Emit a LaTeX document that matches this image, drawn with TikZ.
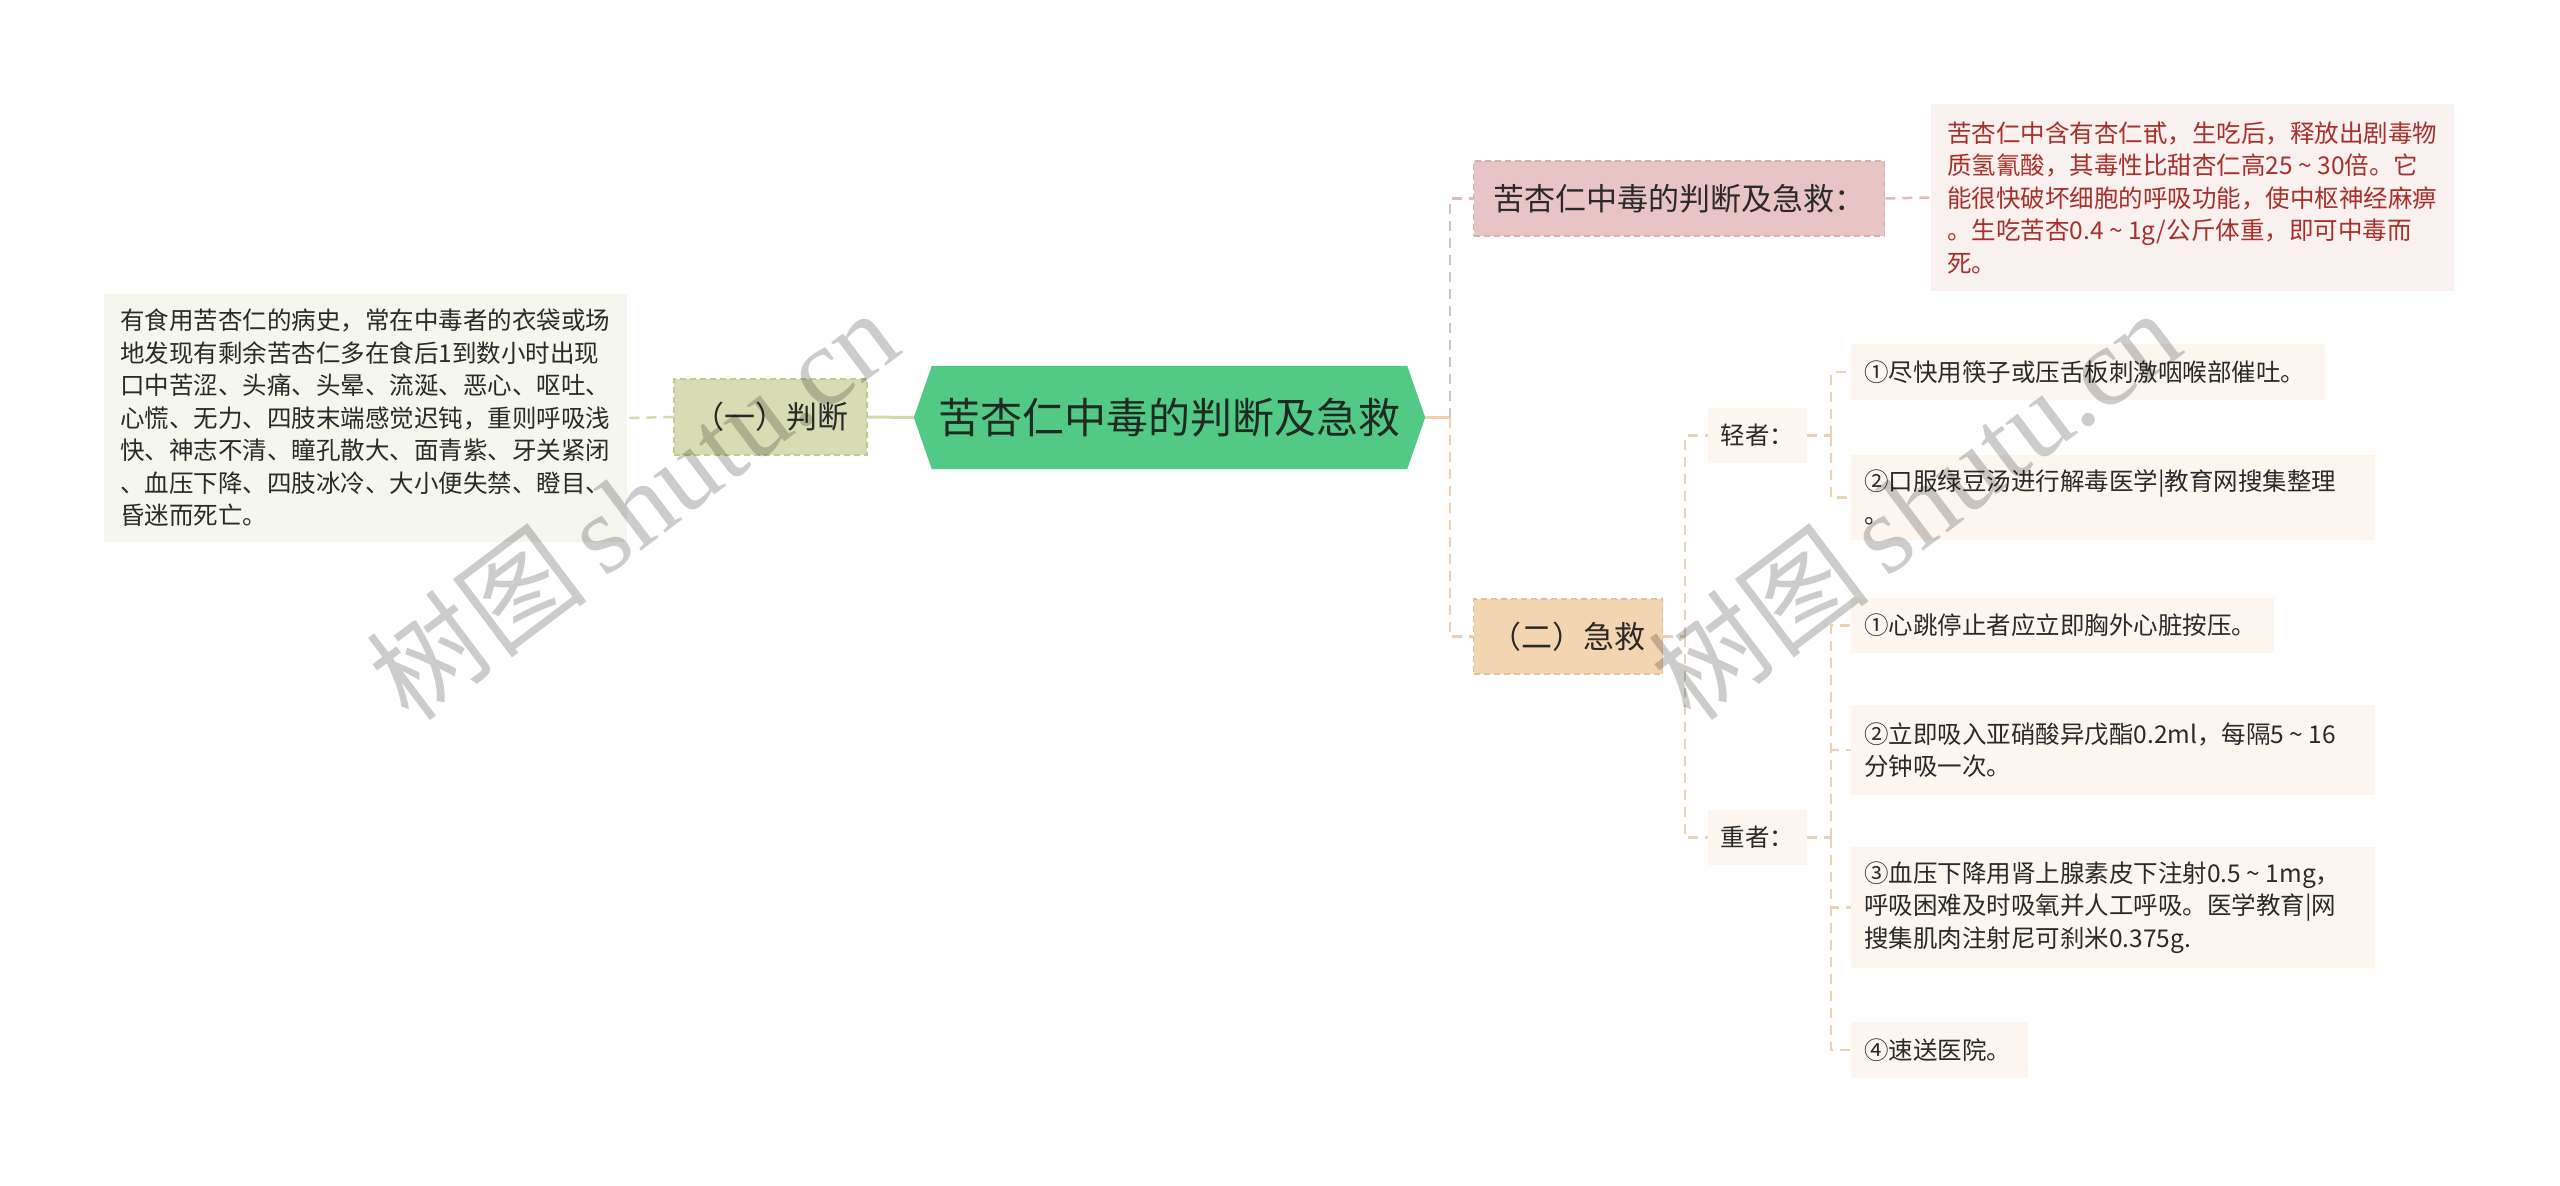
\documentclass[tikz,border=0pt]{standalone}
\usepackage{fontspec}
\setmainfont{Noto Sans CJK SC}
\newfontfamily\wmlatin{Liberation Serif}
\usetikzlibrary{backgrounds}
\newcommand\mytld{\hbox to 1em{\hss\textasciitilde\hss}}
\definecolor{cgreen}{HTML}{52C985}
\definecolor{ctitle}{HTML}{1E2B22}
\definecolor{ctxt}{HTML}{2A2A2A}
\definecolor{colivefill}{HTML}{D8DCB3}
\definecolor{coliveedge}{HTML}{C3C897}
\definecolor{coliveline}{HTML}{D3D8AE}
\definecolor{cleftbox}{HTML}{F5F6EE}
\definecolor{cpinkfill}{HTML}{E8C4C4}
\definecolor{cpinkedge}{HTML}{D6AEAE}
\definecolor{cpinkline}{HTML}{DBBDBE}
\definecolor{credbox}{HTML}{F9F0F0}
\definecolor{credtxt}{HTML}{A8302A}
\definecolor{cpeachfill}{HTML}{F4D5B2}
\definecolor{cpeachedge}{HTML}{E4C09A}
\definecolor{cpeachline}{HTML}{F0CFAE}
\definecolor{cleaf}{HTML}{FCF6EE}
\definecolor{csubline}{HTML}{E7D3B6}
\tikzset{
  small/.style={font=\fontsize{24.5}{32.5}\selectfont},
  mid/.style={font=\fontsize{31}{38}\selectfont},
  textbox/.style={small, align=left, inner xsep=16pt, inner ysep=0pt, text width=491pt},
  leafbox/.style={small, fill=cleaf, align=left, inner xsep=13pt, inner ysep=0pt, text=ctxt, anchor=west},
  mainbox/.style={mid, inner sep=0pt, dashed, dash pattern=on 6pt off 4pt, line width=1.3pt, text=ctxt},
  labelbox/.style={small, fill=cleaf, inner sep=0pt, minimum width=99pt, minimum height=55pt, text=ctxt},
  solidconn/.style={line width=3pt},
  dashconn/.style={line width=2.5pt, dash pattern=on 10pt off 7pt},
  watermark/.style={text=black, opacity=0.2, rotate=37, inner sep=0pt}
}
\begin{document}
\begin{tikzpicture}[x=1pt,y=-1pt]
\useasboundingbox (0,0) rectangle (2560,1186);
\begin{pgfonlayer}{background}
\fill[white] (0,0) rectangle (2560,1186);
\end{pgfonlayer}

% central node
\node[inner sep=0pt, minimum width=511pt, minimum height=103pt, text=ctitle,
      font=\fontsize{42}{50}\selectfont] (root) at (1169.5,417.5) {苦杏仁中毒的判断及急救};
\begin{pgfonlayer}{background}
\fill[cgreen] ([xshift=18pt]root.north west) -- ([xshift=-18pt]root.north east) -- (root.east)
  -- ([xshift=-18pt]root.south east) -- ([xshift=18pt]root.south west) -- (root.west) -- cycle;
\end{pgfonlayer}

% left branch
\node[mainbox, fill=colivefill, draw=coliveedge, minimum width=193pt, minimum height=76pt]
  (pd) at (770.5,417) {（一）判断};
\node[textbox, fill=cleftbox, text=ctxt, minimum height=248pt, anchor=west] (lt) at (104,418)
  {有食用苦杏仁的病史，常在中毒者的衣袋或场\\
   地发现有剩余苦杏仁多在食后1到数小时出现\\
   口中苦涩、头痛、头晕、流涎、恶心、呕吐、\\
   心慌、无力、四肢末端感觉迟钝，重则呼吸浅\\
   快、神志不清、瞳孔散大、面青紫、牙关紧闭\\
   、血压下降、四肢冰冷、大小便失禁、瞪目、\\
   昏迷而死亡。};

% right top branch
\node[mainbox, fill=cpinkfill, draw=cpinkedge, minimum width=411pt, minimum height=75pt, anchor=west]
  (pk) at (1473,198.5) {苦杏仁中毒的判断及急救：};
\node[textbox, fill=credbox, text=credtxt, minimum height=187pt, anchor=west] (rb) at (1931,197.5)
  {苦杏仁中含有杏仁甙，生吃后，释放出剧毒物\\
   质氢氰酸，其毒性比甜杏仁高25\mytld 30倍。它\\
   能很快破坏细胞的呼吸功能，使中枢神经麻痹\\
   。生吃苦杏0.4\mytld 1g/公斤体重，即可中毒而\\
   死。};

% right bottom branch
\node[mainbox, fill=cpeachfill, draw=cpeachedge, minimum width=189pt, minimum height=75pt, anchor=west]
  (jj) at (1473,636.5) {（二）急救};
\node[labelbox, anchor=west] (qing) at (1708,435.5) {轻者：};
\node[labelbox, anchor=west] (zhong) at (1708,837.5) {重者：};

\node[leafbox, text width=448pt, minimum height=56pt] (l1) at (1851,372) {①尽快用筷子或压舌板刺激咽喉部催吐。};
\node[leafbox, text width=498pt, minimum height=85pt] (l2) at (1851,497.5) {②口服绿豆汤进行解毒医学|教育网搜集整理\\。};
\node[leafbox, text width=397pt, minimum height=55pt] (m1) at (1851,625.5) {①心跳停止者应立即胸外心脏按压。};
\node[leafbox, text width=498pt, minimum height=90pt] (m2) at (1851,750) {②立即吸入亚硝酸异戊酯0.2ml，每隔5\mytld 16\\分钟吸一次。};
\node[leafbox, text width=498pt, minimum height=121pt] (m3) at (1851,907.5) {③血压下降用肾上腺素皮下注射0.5\mytld 1mg，\\呼吸困难及时吸氧并人工呼吸。医学教育|网\\搜集肌肉注射尼可刹米0.375g.};
\node[leafbox, text width=151pt, minimum height=56pt] (m4) at (1851,1050) {④速送医院。};

% bus coordinates
\coordinate (b1) at (1450,417.5);
\coordinate (b2) at (1685,636.5);
\coordinate (b3) at (1831,435.5);
\coordinate (b4) at (1831,837.5);

% connectors
\draw[solidconn, coliveline] (root.west) -- (pd.east);
\draw[dashconn, coliveline] (pd.west) -- (lt.east);
\draw[solidconn, cpeachline] (root.east) -- (b1);
\draw[dashconn, cpinkline] (b1) |- (pk.west);
\draw[dashconn, cpinkline] (pk.east) -- (rb.west);
\draw[dashconn, cpeachline] (b1) |- (jj.west);
\draw[dashconn, csubline] (jj.east) -- (b2);
\draw[dashconn, csubline] (b2) |- (qing.west);
\draw[dashconn, csubline] (b2) |- (zhong.west);
\draw[dashconn, csubline] (qing.east) -- (b3);
\draw[dashconn, csubline] (b3) |- (l1.west);
\draw[dashconn, csubline] (b3) |- (l2.west);
\draw[dashconn, csubline] (zhong.east) -- (b4);
\draw[dashconn, csubline] (b4) |- (m1.west);
\draw[dashconn, csubline] (b4) |- (m2.west);
\draw[dashconn, csubline] (b4) |- (m3.west);
\draw[dashconn, csubline] (b4) |- (m4.west);

% watermarks
\node[watermark] (wm1) at (632,504) {\fontsize{112}{112}\selectfont 树图\,{\wmlatin shutu.cn}};
\node[watermark] (wm2) at (1914,504) {\fontsize{112}{112}\selectfont 树图\,{\wmlatin shutu.cn}};
\end{tikzpicture}
\end{document}
